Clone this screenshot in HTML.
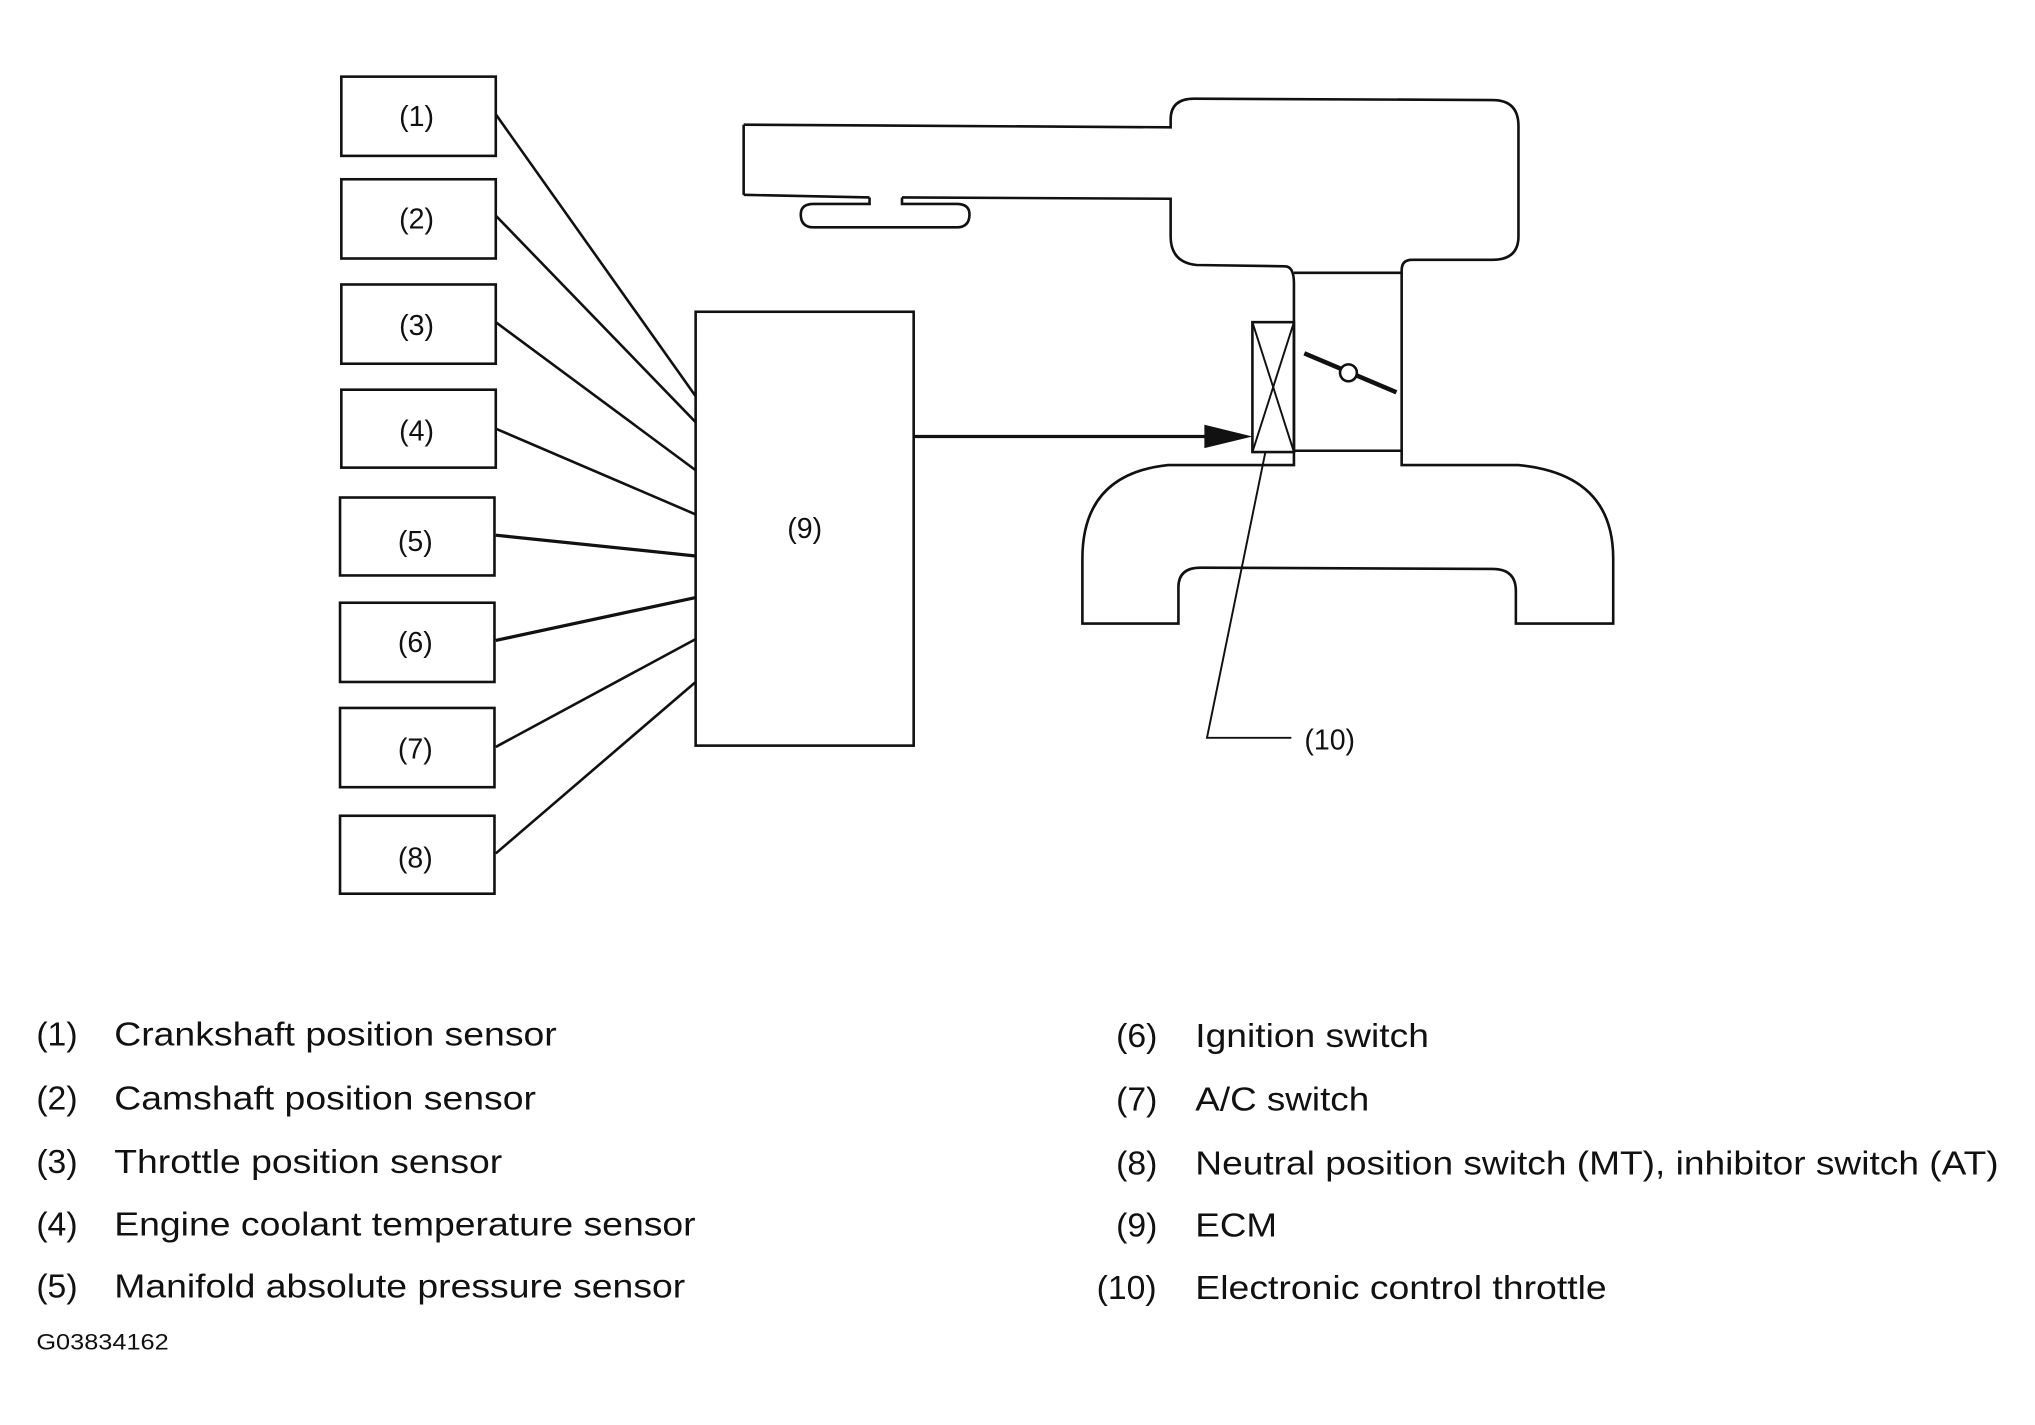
<!DOCTYPE html>
<html><head><meta charset="utf-8"><style>
html,body{margin:0;padding:0;background:#fff;}
svg{display:block;}
text{font-family:"Liberation Sans",sans-serif;fill:#111;}
</style></head><body>
<svg width="2035" height="1425" viewBox="0 0 1568 1097" preserveAspectRatio="none" xmlns="http://www.w3.org/2000/svg">
<g fill="none" stroke="#111" stroke-width="2">
<rect x="263" y="59" width="119" height="61"/>
<rect x="263" y="138" width="119" height="61"/>
<rect x="263" y="219" width="119" height="61"/>
<rect x="263" y="300" width="119" height="60"/>
<rect x="262" y="383" width="119" height="60"/>
<rect x="262" y="464" width="119" height="61"/>
<rect x="262" y="545" width="119" height="61"/>
<rect x="262" y="628" width="119" height="60"/>
<rect x="536" y="240" width="168" height="334"/>
<line x1="382" y1="88" x2="536" y2="305"/>
<line x1="382" y1="166" x2="536" y2="325"/>
<line x1="382" y1="248" x2="536" y2="362"/>
<line x1="382" y1="330" x2="536" y2="396"/>
<line x1="382" y1="412" x2="536" y2="428" stroke-width="2.5"/>
<line x1="382" y1="493" x2="536" y2="460" stroke-width="2.5"/>
<line x1="382" y1="575" x2="536" y2="492"/>
<line x1="382" y1="657" x2="536" y2="525"/>
<line x1="704" y1="336" x2="932" y2="336" stroke-width="2.5"/>
<path d="M573 96 L902 98 L902 92 Q902 76 920 76 L1150 77 Q1170 77 1170 97 L1170 182 Q1170 200 1150 200 L1088 200 Q1080 200 1080 208 L1080 347 L997 347 L997 218 Q997 205 990 205 L922 204 Q902 202 902 182 L902 153 L695 152 M670 152 L573 150 Z"/>
<path d="M573 96 L573 150"/>
<path d="M670 152 L670 157 L627 157 Q617 157 617 165 Q617 175 627 175 L737 175 Q747 175 747 165 Q747 157 737 157 L695 157 L695 152"/>
<line x1="997" y1="210" x2="1080" y2="210"/>
<path d="M997 347 L997 358 L900 358 Q834 365 834 430 L834 480 L908 480 L908 452 Q908 437 925 437 L1150 438 Q1168 438 1168 455 L1168 480 L1243 480 L1243 430 Q1243 365 1170 358 L1080 358 L1080 347"/>
<rect x="965" y="248" width="32" height="100"/>
<line x1="965" y1="248" x2="997" y2="348" stroke-width="1.5"/>
<line x1="997" y1="248" x2="965" y2="348" stroke-width="1.5"/>
<line x1="1005" y1="272" x2="1076" y2="302" stroke-width="3.5"/>
<circle cx="1039" cy="287" r="6.5" fill="#fff" stroke-width="2"/>
<polyline points="975,348 930,568 995,568" stroke-width="1.5"/>
</g>
<polygon points="928,327 965,336 928,345" fill="#111"/>
<g font-size="22" text-anchor="middle">
<text x="321" y="97">(1)</text>
<text x="321" y="176">(2)</text>
<text x="321" y="258">(3)</text>
<text x="321" y="339">(4)</text>
<text x="320" y="424">(5)</text>
<text x="320" y="502">(6)</text>
<text x="320" y="584">(7)</text>
<text x="320" y="668">(8)</text>
<text x="620" y="414">(9)</text>
</g>
<text x="1005" y="577" font-size="22">(10)</text>
<g font-size="26">
<text x="28" y="805">(1)</text><text x="88" y="805" textLength="341" lengthAdjust="spacingAndGlyphs">Crankshaft position sensor</text>
<text x="28" y="854">(2)</text><text x="88" y="854" textLength="325" lengthAdjust="spacingAndGlyphs">Camshaft position sensor</text>
<text x="28" y="903">(3)</text><text x="88" y="903" textLength="299" lengthAdjust="spacingAndGlyphs">Throttle position sensor</text>
<text x="28" y="951">(4)</text><text x="88" y="951" textLength="448" lengthAdjust="spacingAndGlyphs">Engine coolant temperature sensor</text>
<text x="28" y="999">(5)</text><text x="88" y="999" textLength="440" lengthAdjust="spacingAndGlyphs">Manifold absolute pressure sensor</text>
<text x="860" y="806">(6)</text><text x="921" y="806" textLength="180" lengthAdjust="spacingAndGlyphs">Ignition switch</text>
<text x="860" y="855">(7)</text><text x="921" y="855" textLength="134" lengthAdjust="spacingAndGlyphs">A/C switch</text>
<text x="860" y="904">(8)</text><text x="921" y="904" textLength="619" lengthAdjust="spacingAndGlyphs">Neutral position switch (MT), inhibitor switch (AT)</text>
<text x="860" y="952">(9)</text><text x="921" y="952" textLength="63" lengthAdjust="spacingAndGlyphs">ECM</text>
<text x="845" y="1000">(10)</text><text x="921" y="1000" textLength="317" lengthAdjust="spacingAndGlyphs">Electronic control throttle</text>
</g>
<text x="28" y="1039" font-size="17" textLength="102" lengthAdjust="spacingAndGlyphs">G03834162</text>
</svg>
</body></html>
